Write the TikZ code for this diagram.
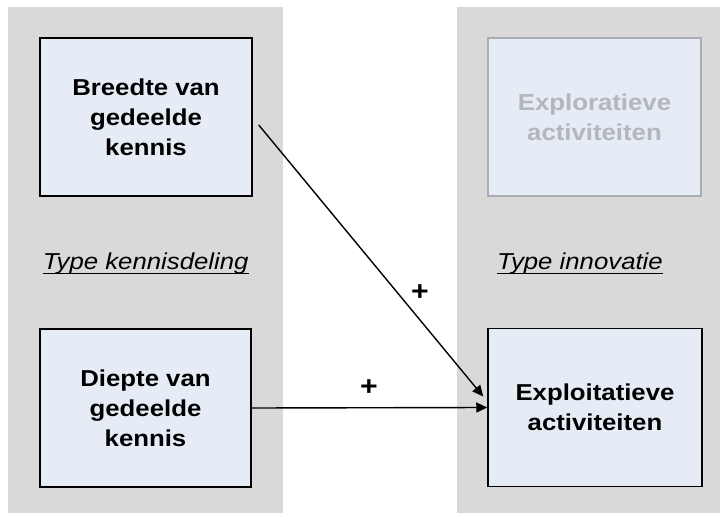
\documentclass[tikz,border=0pt]{standalone}
\usepackage{fontspec}
\setmainfont[FakeStretch=1.12]{Liberation Sans}
\usetikzlibrary{arrows.meta,calc}
\definecolor{panelgray}{HTML}{D9D9D9}
\definecolor{boxfill}{HTML}{E6ECF6}
\definecolor{fadeborder}{HTML}{A9ACB0}
\definecolor{fadetext}{HTML}{B3B6BA}
\tikzset{
  panel/.style={fill=panelgray, draw=none},
  conceptbox/.style={draw=black, line width=1.5pt, fill=boxfill, inner sep=0pt,
    minimum height=158pt, align=center, font=\fontsize{23}{30}\selectfont\bfseries},
  fadedbox/.style={conceptbox, draw=fadeborder, text=fadetext},
  typelabel/.style={inner sep=0pt, font=\fontsize{23}{28}\selectfont\itshape},
  plus/.style={inner sep=0pt, font=\fontsize{27}{30}\selectfont\bfseries},
  arrowline/.style={line width=1.4pt, -{Triangle[length=11pt,width=10pt]}}
}
\begin{document}
\begin{tikzpicture}[x=1pt,y=-1pt]
\useasboundingbox (0,0) rectangle (720,513);
\fill[white] (0,0) rectangle (720,513);
\path[panel] (8,7) rectangle (283,513);
\path[panel] (457,7) rectangle (720,513);

\node[conceptbox, minimum width=212pt] (breedte) at (146,117) {Breedte van\\gedeelde\\kennis};
\node[conceptbox, minimum width=211pt] (diepte) at (145.5,408) {Diepte van\\gedeelde\\kennis};
\node[fadedbox, minimum width=213pt] (explor) at (594.5,117) {Exploratieve\\activiteiten};
\node[conceptbox, minimum width=214pt] (exploit) at (595,407.5) {Exploitatieve\\activiteiten};

\node[typelabel, anchor=base] (kd) at (145.7,269) {Type kennisdeling};
\node[typelabel, anchor=base] (ti) at (580,269) {Type innovatie};
\draw[line width=1.4pt] ([yshift=-4.5pt]kd.base west) -- ([yshift=-4.5pt]kd.base east);
\draw[line width=1.4pt] ([yshift=-4.5pt]ti.base west) -- ([yshift=-4.5pt]ti.base east);

\coordinate (dstart) at ($(breedte.east)+(6,8)$);
\coordinate (dend) at ($(exploit.west)+(-4,-11)$);
\draw[arrowline] (dstart) -- (dend);
\draw[arrowline] (diepte.east) -- (exploit.west);

\node[plus] (p1) at (420,293) {+};
\node[plus] (p2) at (369,388) {+};
\end{tikzpicture}
\end{document}
